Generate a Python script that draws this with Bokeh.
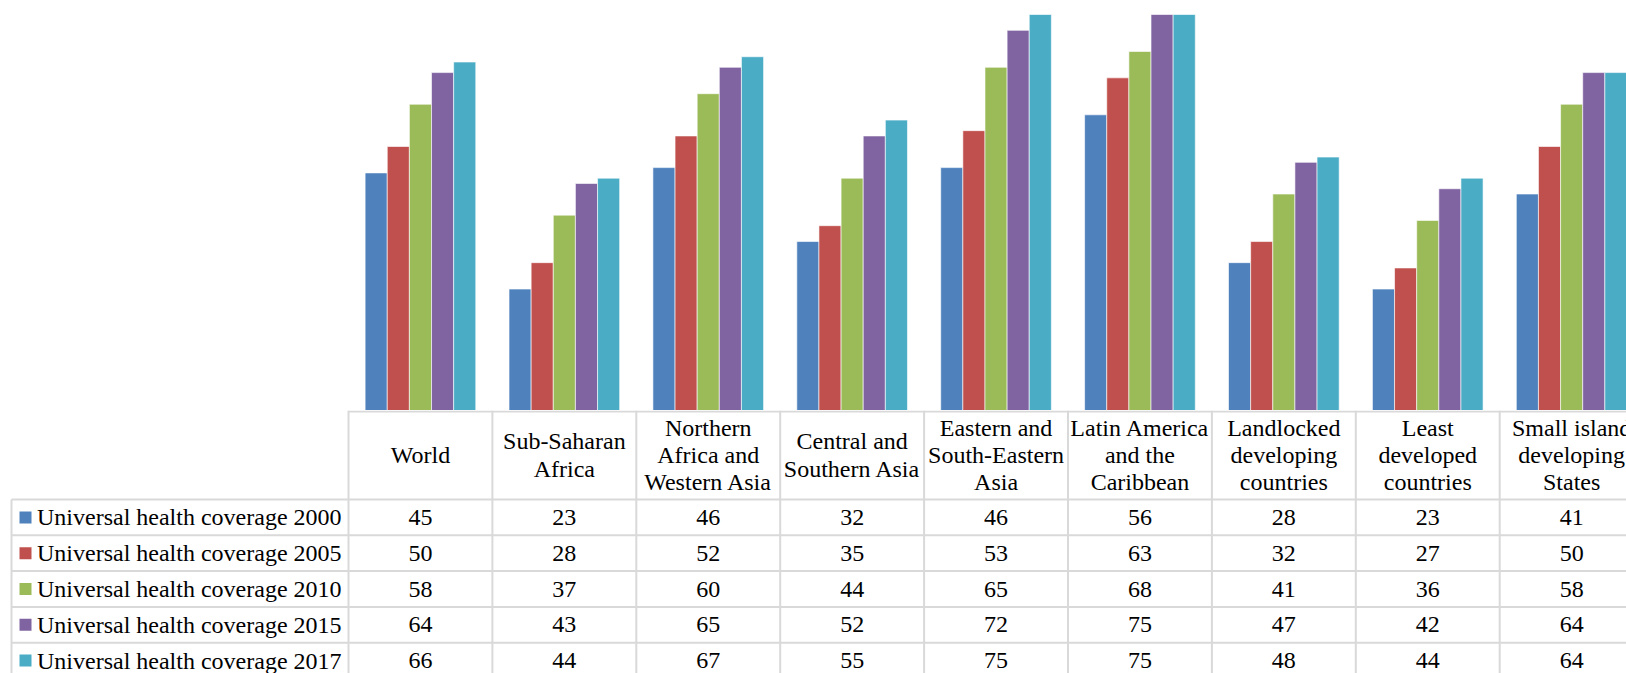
import numpy as np
from bokeh.plotting import figure
from bokeh.layouts import column
from bokeh.models import Range1d, ColumnDataSource
from bokeh.core.properties import value
from bokeh.embed import file_html
from bokeh.resources import INLINE

# ---------------- data ----------------
categories = ["World", "Sub-Saharan Africa", "Northern Africa and Western Asia",
              "Central and Southern Asia", "Eastern and South-Eastern Asia",
              "Latin America and the Caribbean", "Landlocked developing countries",
              "Least developed countries", "Small island developing States"]
header_lines = [["World"], ["Sub-Saharan", "Africa"], ["Northern", "Africa and", "Western Asia"],
                ["Central and", "Southern Asia"], ["Eastern and", "South-Eastern", "Asia"],
                ["Latin America", "and the", "Caribbean"], ["Landlocked", "developing", "countries"],
                ["Least", "developed", "countries"], ["Small island", "developing", "States"]]
series_names = ["Universal health coverage 2000", "Universal health coverage 2005",
                "Universal health coverage 2010", "Universal health coverage 2015",
                "Universal health coverage 2017"]
uhc_2000 = [45, 23, 46, 32, 46, 56, 28, 23, 41]
uhc_2005 = [50, 28, 52, 35, 53, 63, 32, 27, 50]
uhc_2010 = [58, 37, 60, 44, 65, 68, 41, 36, 58]
uhc_2015 = [64, 43, 65, 52, 72, 75, 47, 42, 64]
uhc_2017 = [66, 44, 67, 55, 75, 75, 48, 44, 64]
series_values = [uhc_2000, uhc_2005, uhc_2010, uhc_2015, uhc_2017]
colors = ["#4F81BD", "#C0504D", "#9BBB59", "#8064A2", "#4BACC6"]

# ---------------- layout constants ----------------
W = 1626
COL_PX = 143.9
X0_PX = 348.0           # left edge of first category column (figure px)
x_start = -X0_PX / COL_PX
x_end = (W - X0_PX) / COL_PX
xr = Range1d(x_start, x_end)

FONT = value("'Liberation Serif', 'Times New Roman', serif")
FS = "24px"
GRID = "#d9d9d9"

# ---------------- bar chart ----------------
H1 = 410
p = figure(width=W, height=H1, x_range=xr, y_range=Range1d(0, 410 / 5.28),
           output_backend="svg", toolbar_location=None, min_border=0,
           outline_line_color=None)
p.axis.visible = False
p.grid.visible = False
bw = 0.1538
ncat = len(categories)
centers = np.arange(ncat) + 0.5
for k, (vals, c) in enumerate(zip(series_values, colors)):
    src = ColumnDataSource(dict(x=centers + (k - 2) * bw, top=vals))
    p.vbar(x="x", top="top", bottom=0, width=bw, source=src, fill_color=c,
           line_color="white", line_alpha=0.6, line_width=1)

# ---------------- data table ----------------
H2 = 263
t = figure(width=W, height=H2, x_range=xr, y_range=Range1d(H2, 0),
           output_backend="svg", toolbar_location=None, min_border=0,
           outline_line_color=None)
t.axis.visible = False
t.grid.visible = False

HEAD_H = 89.0
ROW_H = 35.8
LEFT = (11 - X0_PX) / COL_PX

# horizontal lines
t.segment(x0=[0], y0=[1], x1=[x_end + 1], y1=[1], line_color=GRID, line_width=2)
row_tops = [HEAD_H + r * ROW_H for r in range(len(series_names) + 1)]
t.segment(x0=[LEFT] * len(row_tops), y0=row_tops, x1=[x_end + 1] * len(row_tops), y1=row_tops,
          line_color=GRID, line_width=2)
# vertical lines
vx = list(range(ncat + 1))
t.segment(x0=vx, y0=[0] * len(vx), x1=vx, y1=[H2 + 20] * len(vx), line_color=GRID, line_width=2)
t.segment(x0=[LEFT], y0=[HEAD_H], x1=[LEFT], y1=[H2 + 20], line_color=GRID, line_width=2)

# header text
hx, hy, ht = [], [], []
for i, lines in enumerate(header_lines):
    n = len(lines)
    for j, ln in enumerate(lines):
        hx.append(i + 0.5)
        hy.append(HEAD_H / 2 + (j - (n - 1) / 2) * 27.4)
        ht.append(ln)
t.text(x=hx, y=hy, text=ht, text_font=FONT, text_font_size=FS, text_color="black",
       text_align="center", text_baseline="middle")

# rows
for r, (name, vals, c) in enumerate(zip(series_names, series_values, colors)):
    yc = HEAD_H + (r + 0.5) * ROW_H
    t.scatter(x=[(25 - X0_PX) / COL_PX], y=[yc], marker="square", size=12,
              fill_color=c, line_color=None)
    t.text(x=[(36.5 - X0_PX) / COL_PX], y=[yc], text=[name], text_font=FONT,
           text_font_size=FS, text_color="black", text_align="left", text_baseline="middle")
    t.text(x=list(centers), y=[yc] * ncat, text=[str(v) for v in vals], text_font=FONT,
           text_font_size=FS, text_color="black", text_align="center", text_baseline="middle")

layout = column(p, t, spacing=0)
open("out.html", "w").write(file_html(layout, INLINE))
